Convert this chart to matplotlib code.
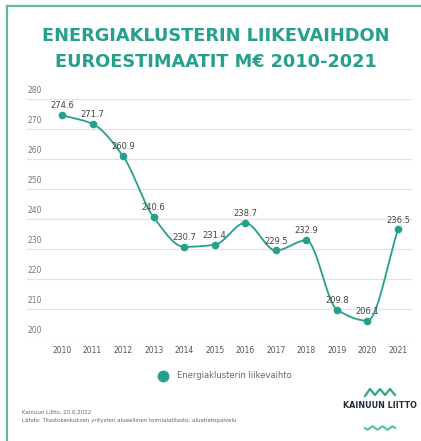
import numpy as np
import matplotlib.pyplot as plt
from matplotlib.lines import Line2D

years = [2010, 2011, 2012, 2013, 2014, 2015, 2016, 2017, 2018, 2019, 2020, 2021]
values = [274.6, 271.7, 260.9, 240.6, 230.7, 231.4, 238.7, 229.5, 232.9, 209.8, 206.1, 236.5]
y_ticks = [200, 210, 220, 230, 240, 250, 260, 270, 280]

title = "ENERGIAKLUSTERIN LIIKEVAIHDON\nEUROESTIMAATIT M€ 2010-2021"
series_name = "Energiaklusterin liikevaihto"
footer = "Kainuun Liitto, 20.6.2022\nLähde: Tilastokeskuksen yritysten alueellinen toimialatilasto, aluetietopalvelu"

teal = "#26a08c"
frame_col = "#5db8a6"


def monotone(x, y, n=30):
    # Fritsch-Carlson monotone cubic, just for the smooth line
    x = np.asarray(x, float)
    y = np.asarray(y, float)
    h = np.diff(x)
    d = np.diff(y) / h
    m = np.zeros_like(y)
    m[0], m[-1] = d[0], d[-1]
    for i in range(1, len(y) - 1):
        if d[i - 1] * d[i] <= 0:
            m[i] = 0
        else:
            m[i] = 2 / (1 / d[i - 1] + 1 / d[i])
    xs, ys = [], []
    for i in range(len(x) - 1):
        t = np.linspace(0, 1, n)
        h00 = 2 * t**3 - 3 * t**2 + 1
        h10 = t**3 - 2 * t**2 + t
        h01 = -2 * t**3 + 3 * t**2
        h11 = t**3 - t**2
        xs.append(x[i] + t * h[i])
        ys.append(h00 * y[i] + h10 * h[i] * m[i] + h01 * y[i + 1] + h11 * h[i] * m[i + 1])
    return np.concatenate(xs), np.concatenate(ys)


fig = plt.figure(figsize=(4.21, 4.41), dpi=100)
W, H = 421, 441

# frame
fig.add_artist(Line2D([6.5 / W, 6.5 / W], [0, 1 - 6 / H], color=frame_col, lw=1.6))
fig.add_artist(Line2D([6.5 / W, 1], [1 - 6 / H, 1 - 6 / H], color=frame_col, lw=1.6))

fig.text(216 / W, 1 - 49 / H, title, ha="center", va="center", fontsize=12.8,
         fontweight="bold", color=teal, linespacing=1.6)

ax = fig.add_axes([27 / W, 1 - 339 / H, (412 - 27) / W, (339 - 99) / H])
ax.set_xlim(2010 - 35 / 30.55, 2021 + 14 / 30.55)
ax.set_ylim(200, 280)
for s in ax.spines.values():
    s.set_visible(False)
ax.set_yticks(y_ticks)
ax.set_yticklabels([])
ax.tick_params(axis="y", length=0)
ax.grid(axis="y", color="#e2e2e2", lw=0.9)
ax.set_axisbelow(True)
for v in y_ticks:
    ax.text(0, v + 1.2, str(v), transform=ax.get_yaxis_transform(), ha="left",
            va="bottom", fontsize=5.5, color="#777777")
ax.set_xticks(years)
ax.set_xticklabels([str(y) for y in years], fontsize=5.5, color="#555555")
ax.tick_params(axis="x", length=0, pad=5)

sx, sy = monotone(years, values)
ax.plot(sx, sy, color=teal, lw=1.3, clip_on=False)
ax.plot(years, values, "o", color=teal, ms=4.5, clip_on=False)
for x, v in zip(years, values):
    ax.annotate(f"{v:.1f}", (x, v), xytext=(0, 3.5), textcoords="offset points",
                ha="center", va="bottom", fontsize=6, color="#444444")

# legend
fig.add_artist(Line2D([163 / W], [1 - 376 / H], marker="o", ms=7.5, color=teal))
fig.text(177 / W, 1 - 376 / H, series_name, ha="left", va="center", fontsize=6,
         color="#666666")

fig.text(22 / W, 1 - 416 / H, footer, ha="left", va="center", fontsize=4,
         color="#666666", linespacing=1.8)

# logo
fig.text(380 / W, 1 - 406 / H, "KAINUUN LIITTO", ha="center", va="center",
         fontsize=5.8, fontweight="bold", color="#1f2d3a")
zx = [365, 370, 375, 380, 385, 390, 395]
zy = [396, 389, 395, 389, 395, 389, 395]
fig.add_artist(Line2D([a / W for a in zx], [1 - b / H for b in zy], color="#2fa58c", lw=1.6))
wx = np.linspace(365, 395, 40)
wy = 428 + 1.5 * np.sin((wx - 365) / 30 * 3 * 2 * np.pi)
fig.add_artist(Line2D(wx / W, 1 - wy / H, color="#5cc59a", lw=1.6))

fig.savefig("out.png", dpi=100)
